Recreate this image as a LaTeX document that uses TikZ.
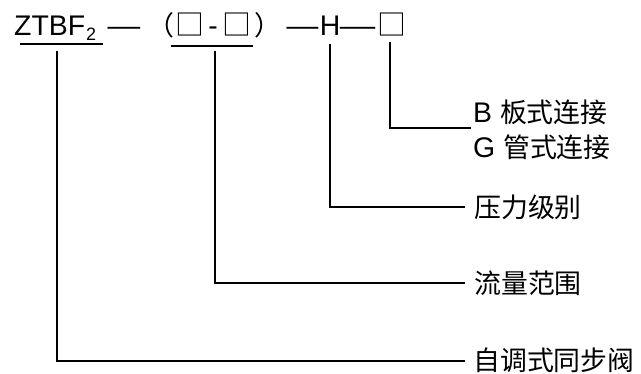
\documentclass[tikz,border=0pt]{standalone}
\usepackage{fontspec}
\setmainfont{Liberation Sans}
\newfontfamily\cjk{Noto Sans CJK SC}
\newcommand\latfs{\fontsize{28.5}{32}\selectfont}
\newcommand\cjkfs{\cjk\fontsize{27}{32}\selectfont}
\newcommand\sqfs{\cjk\fontsize{29}{32}\selectfont}
\begin{document}
\begin{tikzpicture}[x=1bp,y=-1bp,
  conn/.style={line width=1.4bp, line cap=rect},
  lat/.style={inner sep=0pt, font=\latfs, anchor=base},
  han/.style={inner sep=0pt, font=\cjkfs, anchor=base},
  sq/.style={inner sep=0pt, font=\sqfs, anchor=base},
  lbl/.style={inner sep=0pt, anchor=west}]
\useasboundingbox (0,0) rectangle (641,373);
% top code line
\node[lat, anchor=base west] (ztbf) at (14,35.5) {ZTBF\hspace{1bp}\raisebox{-4.5bp}{\fontsize{18}{18}\selectfont 2}};
\node[lat] (d1) at (124,35.5) {\scalebox{1.15}[1]{—}};
\node[han] (pl) at (161,35.5) {（};
\node[sq] (sq1) at (189.5,35.5) {□};
\node[lat] (hy) at (213,35.5) {-};
\node[sq] (sq2) at (237,35.5) {□};
\node[han] (pr) at (267.5,35.5) {）};
\node[lat] (d2) at (302.5,35.5) {\scalebox{1.12}[1]{—}};
\node[lat] (H) at (330,35.5) {H};
\node[lat] (d3) at (357.5,35.5) {\scalebox{1.25}[1]{—}};
\node[sq] (sq3) at (391.5,35.5) {□};
% underlines
\coordinate (u1a) at (21,44); \coordinate (u1b) at (102,44);
\coordinate (u2a) at (172,46); \coordinate (u2b) at (252,46);
\draw[conn] (u1a) -- (u1b);
\draw[conn] (u2a) -- (u2b);
% labels
\node[lbl, anchor=base west] (lb) at (473,122) {\latfs B {\cjkfs 板式连接}};
\node[lbl, anchor=base west] (lg) at (473,157.5) {\latfs G {\cjkfs 管式连接}};
\node[lbl, font=\cjkfs] (lp) at (474,207) {压力级别};
\node[lbl, font=\cjkfs] (lf) at (474,283) {流量范围};
\node[lbl, font=\cjkfs] (lz) at (473,360) {自调式同步阀};
% connectors
\coordinate (t1) at (57,52);  \coordinate (e1) at (464,361);
\coordinate (t2) at (215,52); \coordinate (e2) at (464,283);
\coordinate (t3) at (330,45); \coordinate (e3) at (464,207);
\coordinate (t4) at (390,43); \coordinate (e4) at (470,128);
\draw[conn] (t1) |- (e1);
\draw[conn] (t2) |- (e2);
\draw[conn] (t3) |- (e3);
\draw[conn] (t4) |- (e4);
\end{tikzpicture}
\end{document}
